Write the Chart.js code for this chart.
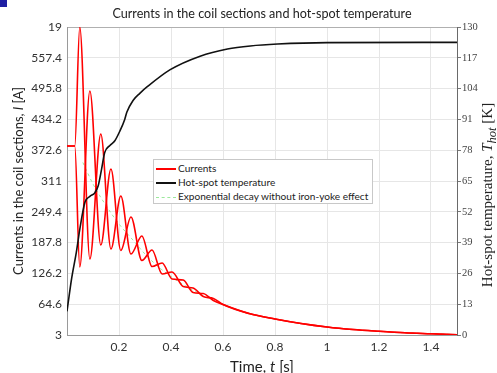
<!DOCTYPE html>
<html>
<head>
<meta charset="utf-8">
<script src="https://cdn.jsdelivr.net/npm/chart.js@4.4.0/dist/chart.umd.min.js"></script>
<style>
    body { margin: 0; background: #fff; }
    #wrap { position: relative; width: 497px; height: 373px; overflow: hidden; }
    #chart { position: absolute; left: 0; top: 0; }
    .mark { position: absolute; left: 0; top: 0; width: 7px; height: 7px; background: #1f1fa3; }
    .title { position: absolute; left: 67px; width: 390px; top: 6px; text-align: center;
             font: 12.6px Lato, sans-serif; color: #222; }
    .ytitle { position: absolute; width: 300px; height: 18px; line-height: 18px; text-align: center;
              left: -131px; top: 172px; transform: rotate(-90deg);
              font: 13px Lato, sans-serif; color: #222; }
    .y1title { position: absolute; width: 300px; height: 18px; line-height: 18px; text-align: center;
               left: 338px; top: 186px; transform: rotate(-90deg);
               font: 15px "Liberation Serif", serif; color: #222; }
    .xtitle { position: absolute; left: 67px; width: 390px; top: 357px; text-align: center;
              font: 15px Lato, sans-serif; color: #222; }
    .legend { position: absolute; left: 153px; top: 159px; width: 218px; height: 43px;
              border: 1px solid #c8c8c8; background: #fff; font: 10.1px Lato, sans-serif; color: #222; }
    .row { height: 14px; line-height: 14px; padding-left: 2px; white-space: nowrap; }
    .row span.ln { display: inline-block; width: 20px; vertical-align: middle; margin-right: 2px; }
</style>
</head>
<body>
<div id="wrap">
    <canvas id="chart" width="497" height="373"></canvas>
    <div class="mark"></div>
    <div class="title">Currents in the coil sections and hot-spot temperature</div>
    <div class="ytitle">Currents in the coil sections, <i>I</i> [A]</div>
    <div class="y1title">Hot-spot temperature, <i>T</i><sub><i>hot</i></sub> [K]</div>
    <div class="xtitle">Time, <i>t</i> [s]</div>
    <div class="legend">
        <div class="row" style="margin-top:1px"><span class="ln" style="border-top:2px solid #ff0000"></span>Currents</div>
        <div class="row"><span class="ln" style="border-top:2px solid #111"></span>Hot-spot temperature</div>
        <div class="row"><span class="ln" style="border-top:1px dashed #9be89b"></span>Exponential decay without iron-yoke effect</div>
    </div>
</div>
<script>
// axis ticks
const xTicks = [0, 0.2, 0.4, 0.6, 0.8, 1, 1.2, 1.4];
const yTicks = [3, 64.6, 126.2, 187.8, 249.4, 311, 372.6, 434.2, 495.8, 557.4, 619];
const yTickLabels = ['3', '64.6', '126.2', '187.8', '249.4', '311', '372.6', '434.2', '495.8', '557.4', '19'];

// currents in the two coil sections (A), read at the peaks / troughs
const currTimes = [0, 0.03, 0.049, 0.088, 0.130, 0.169, 0.207, 0.246, 0.288, 0.327, 0.366, 0.404, 0.447, 0.485, 0.524, 0.563, 0.6, 0.7, 0.8, 0.9, 1.0, 1.1, 1.2, 1.3, 1.4, 1.5];
const currentA = [381, 381, 619, 155, 405, 175, 281, 165, 201, 140, 147, 115, 113, 88, 86, 72, 64, 46, 35, 26, 19, 14, 10.5, 7.5, 5.5, 3.5];
const currentB = [381, 381, 139, 491, 183, 335, 172, 239, 152, 173, 125, 129, 100, 97, 80, 76, 64, 46, 35, 26, 19, 14, 10.5, 7.5, 5.5, 3.5];

// exponential decay without iron-yoke effect (A)
const decayTimes = [0.061, 0.1, 0.15, 0.2, 0.25, 0.3, 0.35, 0.4, 0.45, 0.5, 0.6, 0.7, 0.8, 0.9, 1.0, 1.1, 1.2, 1.3, 1.4, 1.5];
const decayValues = [348, 305, 262, 225, 195, 165, 140, 120, 103, 88, 64, 46, 35, 26, 19, 14, 10.5, 7.5, 5.5, 4];

// hot-spot temperature (K)
const tempTimes = [0, 0.018, 0.036, 0.049, 0.069, 0.088, 0.107, 0.12, 0.133, 0.145, 0.165, 0.184, 0.203, 0.222, 0.23, 0.254, 0.28, 0.311, 0.397, 0.512, 0.617, 0.705, 0.81, 1.0, 1.5];
const tempValues = [10, 24, 35, 44.5, 56, 58.5, 60, 63, 70, 77, 80, 82, 86, 91, 94, 99, 102, 105, 112, 117.7, 120.7, 122, 122.8, 123.4, 123.5];

function pts(xs, ys) {
    return xs.map((x, i) => ({x: x, y: ys[i]}));
}

const ctx = document.getElementById('chart').getContext('2d');
new Chart(ctx, {
    type: 'line',
    data: {
        datasets: [
            {
                label: 'Hot-spot temperature',
                data: pts(tempTimes, tempValues),
                yAxisID: 'y1',
                borderColor: '#111',
                borderWidth: 1.6,
                cubicInterpolationMode: 'monotone',
                order: 0
            },
            {
                label: 'Currents',
                data: pts(currTimes, currentA),
                yAxisID: 'y',
                borderColor: '#ff0000',
                borderWidth: 1.6,
                cubicInterpolationMode: 'monotone',
                order: 1
            },
            {
                label: 'Currents 2',
                data: pts(currTimes, currentB),
                yAxisID: 'y',
                borderColor: '#ff0000',
                borderWidth: 1.6,
                cubicInterpolationMode: 'monotone',
                order: 1
            },
            {
                label: 'Exponential decay without iron-yoke effect',
                data: pts(decayTimes, decayValues),
                yAxisID: 'y',
                borderColor: '#9be89b',
                borderWidth: 1,
                borderDash: [3, 3],
                cubicInterpolationMode: 'monotone',
                order: 2
            }
        ]
    },
    options: {
        responsive: false,
        animation: false,
        layout: {padding: {top: 27, left: 0, right: 0, bottom: 0}},
        elements: {point: {radius: 0}},
        plugins: {legend: {display: false}, tooltip: {enabled: false}},
        scales: {
            x: {
                type: 'linear',
                min: 0,
                max: 1.5,
                afterBuildTicks: s => { s.ticks = xTicks.map(v => ({value: v})); },
                afterFit: s => { s.height = 38; },
                ticks: {
                    callback: v => v === 0 ? '' : String(v),
                    font: {family: 'Lato', size: 12},
                    color: '#333',
                    padding: 5,
                    maxRotation: 0,
                    autoSkip: false
                },
                grid: {color: '#e6e6e6', drawTicks: false},
                border: {color: '#9a9a9a'}
            },
            y: {
                position: 'left',
                min: 3,
                max: 619,
                afterBuildTicks: s => { s.ticks = yTicks.map(v => ({value: v})); },
                afterFit: s => { s.width = 67; },
                ticks: {
                    callback: (v, i) => yTickLabels[i],
                    font: {family: 'Lato', size: 12},
                    color: '#333',
                    padding: 5,
                    autoSkip: false
                },
                grid: {
                    color: c => c.tick && c.tick.value === 619 ? '#b0b0b0' : '#e6e6e6',
                    drawTicks: false
                },
                border: {color: '#9a9a9a'}
            },
            y1: {
                position: 'right',
                min: 0,
                max: 130,
                afterFit: s => { s.width = 40; },
                ticks: {
                    stepSize: 13,
                    font: {family: 'Liberation Serif', size: 10.5},
                    color: '#444',
                    padding: 1
                },
                grid: {drawOnChartArea: false, tickLength: 4, color: '#777'},
                border: {color: '#6a6a6a'}
            }
        }
    }
});
</script>
</body>
</html>
